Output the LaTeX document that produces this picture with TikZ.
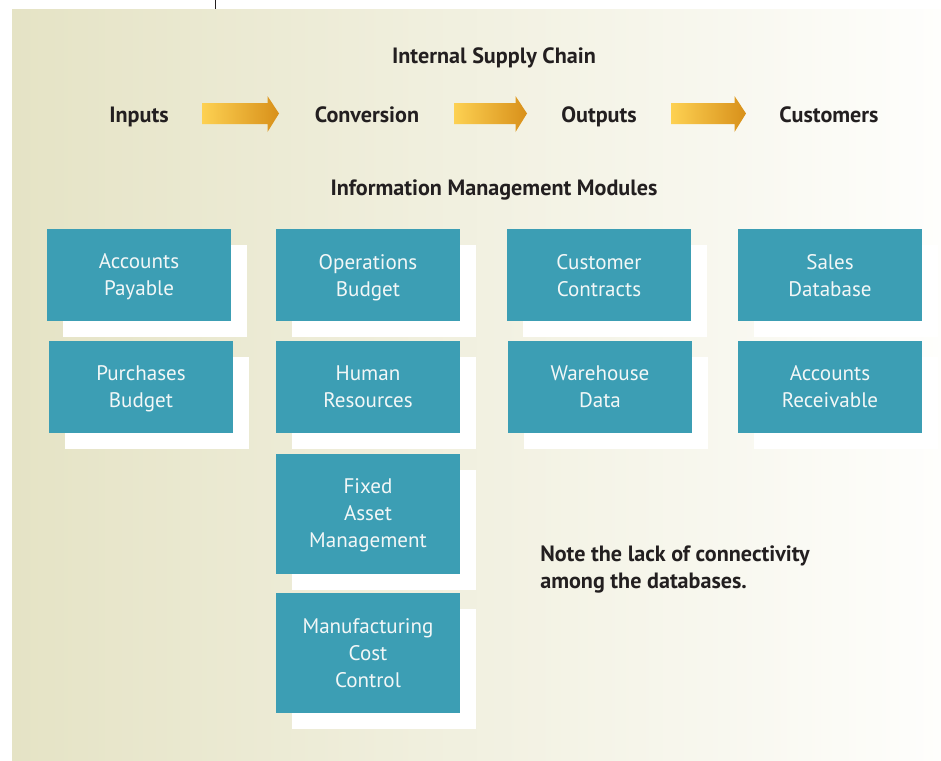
\documentclass[tikz,border=0pt]{standalone}
\usepackage{fontspec}
\setmainfont{PT Sans}
\usetikzlibrary{shadows}
\definecolor{modteal}{HTML}{3C9EB4}
\definecolor{modtext}{HTML}{F2F7F7}
\definecolor{headtxt}{HTML}{231F20}
\definecolor{arrowL}{HTML}{FDD152}
\definecolor{arrowR}{HTML}{D8901A}
\definecolor{bgL}{HTML}{E5E3C5}
\definecolor{bgR}{HTML}{FEFEFC}
\tikzset{
  module/.style ={fill=modteal, text=modtext, minimum width=138pt, minimum height=69pt, inner sep=0pt, align=center,
                  text depth=0pt, font=\fontsize{15.8}{20.25}\selectfont,
                  general shadow={fill=white, shadow xshift=12pt, shadow yshift=-12pt}},
  tallmod/.style={module, minimum height=90pt},
  head/.style   ={font=\fontsize{16.6}{20.25}\selectfont\bfseries, text=headtxt, anchor=base, inner sep=0pt},
  supply/.style ={left color=arrowL, right color=arrowR},
}

\begin{document}
\begin{tikzpicture}[x=0.75pt, y=-0.75pt]
  \useasboundingbox (0,0) rectangle (941,760);
  % backdrop
  \shade[left color=bgL, right color=bgR] (12,9) rectangle (941,760);
  \draw[headtxt, line width=0.6pt] (215,0) -- (215,9);
  % supply chain
  \node[head] (chain) at (494,63.5) {Internal Supply Chain};
  \node[head] (inputs) at (139,122) {Inputs};
  \node[head] (conv) at (367,122) {Conversion};
  \node[head] (outputs) at (599,122) {Outputs};
  \node[head] (cust) at (829,122) {Customers};
  \foreach \x/\l in {202/77, 454/73, 671/75} {
    \shade[supply] (\x,103) -- (\x+\l-11.5,103) -- (\x+\l-11.5,96) -- (\x+\l,113.5)
      -- (\x+\l-11.5,132) -- (\x+\l-11.5,124) -- (\x,124) -- cycle;
  }
  \node[head] (info) at (494,195.5) {Information Management Modules};
  % modules
  \node[module] (ap) at (139,275) {Accounts\\Payable};
  \node[module] (pb) at (141,387) {Purchases\\Budget};
  \node[module] (ob) at (368,275) {Operations\\Budget};
  \node[module] (hr) at (368,387) {Human\\Resources};
  \node[tallmod] (fam) at (368,513.5) {Fixed\\Asset\\Management};
  \node[tallmod] (mcc) at (368,653) {Manufacturing\\Cost\\Control};
  \node[module] (cc) at (599,275) {Customer\\Contracts};
  \node[module] (wd) at (600,387) {Warehouse\\Data};
  \node[module] (sd) at (830,275) {Sales\\Database};
  \node[module] (ar) at (830,387) {Accounts\\Receivable};
  % note
  \node[head, anchor=base west, align=left] (note) at (540,588.5)
    {Note the lack of connectivity\\among the databases.};
\end{tikzpicture}
\end{document}
